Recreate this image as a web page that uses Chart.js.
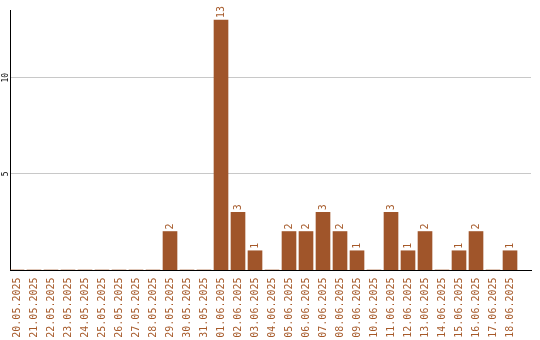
<!DOCTYPE html>
<html>
<head>
<meta charset="utf-8">
<script src="https://cdn.jsdelivr.net/npm/chart.js@4/dist/chart.umd.min.js"></script>
<style>
html,body{margin:0;padding:0;background:#fff;}
#wrap{width:540px;height:340px;position:relative;}
</style>
</head>
<body>
<div id="wrap"><canvas id="c" width="540" height="340"></canvas></div>
<script>
const categories = ["20.05.2025","21.05.2025","22.05.2025","23.05.2025","24.05.2025","25.05.2025","26.05.2025","27.05.2025","28.05.2025","29.05.2025","30.05.2025","31.05.2025","01.06.2025","02.06.2025","03.06.2025","04.06.2025","05.06.2025","06.06.2025","07.06.2025","08.06.2025","09.06.2025","10.06.2025","11.06.2025","12.06.2025","13.06.2025","14.06.2025","15.06.2025","16.06.2025","17.06.2025","18.06.2025"];
const values = [0,0,0,0,0,0,0,0,0,2,0,0,13,3,1,0,2,2,3,2,1,0,3,1,2,0,1,2,0,1];
const yTicks = [5, 10];

const BROWN = '#a0552a';
const TEXT_BROWN = '#a65a2a';

const points = categories.map((c, i) => ({x: i, y: values[i]}));

const valueLabels = {
  id: 'valueLabels',
  afterDatasetsDraw(chart) {
    const ctx = chart.ctx;
    const meta = chart.getDatasetMeta(0);
    ctx.save();
    ctx.font = '10px "DejaVu Sans Mono", monospace';
    ctx.fillStyle = TEXT_BROWN;
    ctx.textAlign = 'left';
    ctx.textBaseline = 'middle';
    meta.data.forEach((el, i) => {
      const v = values[i];
      if (!v) return;
      ctx.save();
      ctx.translate(el.x, el.y - 2);
      ctx.rotate(-Math.PI / 2);
      ctx.fillText(String(v), 0, 0);
      ctx.restore();
    });
    ctx.restore();
  }
};

const axisLabels = {
  id: 'axisLabels',
  afterDraw(chart) {
    const ctx = chart.ctx;
    const ys = chart.scales.y;
    const xs = chart.scales.x;
    ctx.save();
    ctx.font = '8px "DejaVu Sans Mono", monospace';
    ctx.fillStyle = '#000';
    ctx.textAlign = 'center';
    ctx.textBaseline = 'middle';
    yTicks.forEach(t => {
      ctx.save();
      ctx.translate(5.5, ys.getPixelForValue(t));
      ctx.rotate(-Math.PI / 2);
      ctx.fillText(String(t), 0, 0);
      ctx.restore();
    });
    ctx.font = '10px "DejaVu Sans Mono", monospace';
    ctx.fillStyle = TEXT_BROWN;
    ctx.textAlign = 'right';
    categories.forEach((c, i) => {
      ctx.save();
      ctx.translate(xs.getPixelForValue(i), xs.top + 7.5);
      ctx.rotate(-Math.PI / 2);
      ctx.fillText(c, 0, 0);
      ctx.restore();
    });
    ctx.restore();
  }
};

new Chart(document.getElementById('c'), {
  type: 'bar',
  data: {
    datasets: [{
      data: points,
      backgroundColor: BROWN,
      borderWidth: 0,
      barThickness: 14
    }]
  },
  options: {
    responsive: false,
    animation: false,
    devicePixelRatio: 1,
    layout: {padding: {top: 10, right: 9, left: 0, bottom: 0}},
    plugins: {legend: {display: false}, tooltip: {enabled: false}},
    scales: {
      x: {
        type: 'linear',
        offset: false,
        min: -0.4118,
        max: 30.235,
        afterBuildTicks(scale) {
          scale.ticks = categories.map((c, i) => ({value: i}));
        },
        afterFit(scale) { scale.height = 70; },
        grid: {display: false, drawTicks: false, offset: false},
        border: {display: true, color: '#000', width: 1},
        ticks: {display: false}
      },
      y: {
        type: 'linear',
        min: 0,
        max: 13.52,
        afterBuildTicks(scale) {
          scale.ticks = yTicks.map(v => ({value: v}));
        },
        afterFit(scale) { scale.width = 10; },
        grid: {display: true, drawTicks: false, color: '#c8c8c8', lineWidth: 1},
        border: {display: true, color: '#000', width: 1},
        ticks: {display: false}
      }
    }
  },
  plugins: [valueLabels, axisLabels]
});
</script>
</body>
</html>
